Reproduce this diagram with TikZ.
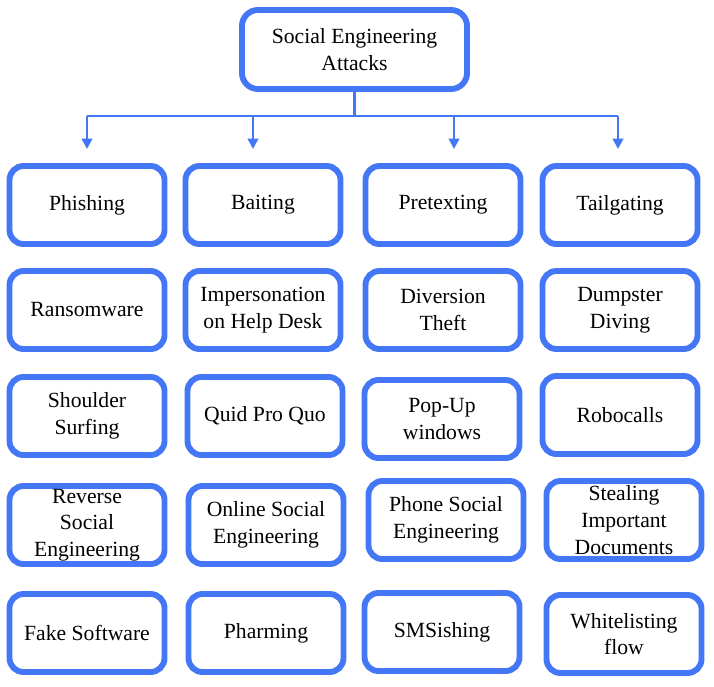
\documentclass[tikz,border=0pt]{standalone}
\usepackage{fontspec}
\setmainfont{Liberation Serif}
\usetikzlibrary{arrows.meta}
\definecolor{Blue60}{RGB}{68, 119, 246}

\begin{document}
\begin{tikzpicture}[
    x=0.025cm, y=-0.025cm,
    root/.style={draw=Blue60, line width=4.2pt, rounded corners=0.4cm, fill=white, inner sep=0pt, align=center, minimum width=5.625cm, minimum height=1.975cm},
    attack/.style={draw=Blue60, line width=4.2pt, rounded corners=0.35cm, fill=white, inner sep=0pt, align=center, minimum width=3.875cm, minimum height=1.95cm},
    link/.style={draw=Blue60, line width=1.9pt},
    font=\fontsize{15.4}{19}\selectfont
    ]
    \useasboundingbox (0,0) rectangle (714,686);

    % root
    \node [root] (root) at (354.5,49.5) {Social Engineering\\Attacks};

    % branches
    \foreach \x [count=\i] in {87, 253, 454, 618} {
        \coordinate (drop\i) at (\x,116);
        \coordinate (tip\i) at (\x,149);
    }
    \coordinate (bus) at (root.south |- drop1);
    \draw[link] (root.south) -- (bus);
    \draw[link] (drop1) -- (drop4);
    \foreach \i in {1, ..., 4}
    \draw[link, -{Triangle[length=0.26cm, width=0.26cm]}] (drop\i) -- (tip\i);

    % attack types, row by row
    \node [attack] (phishing)   at (87,205)  {Phishing};
    \node [attack] (baiting)    at (263,205) {Baiting};
    \node [attack] (pretexting) at (443,205) {Pretexting};
    \node [attack] (tailgating) at (620,205) {Tailgating};

    \node [attack] (ransomware) at (87,310)  {Ransomware};
    \node [attack] (helpdesk)   at (263,310) {Impersonation\\on Help Desk};
    \node [attack] (diversion)  at (443,310) {Diversion\\Theft};
    \node [attack] (dumpster)   at (620,310) {Dumpster\\Diving};

    \node [attack] (shoulder)   at (87,416)  {Shoulder\\Surfing};
    \node [attack] (quidpro)    at (265,416) {Quid Pro Quo};
    \node [attack] (popup)      at (442,419) {Pop-Up\\windows};
    \node [attack] (robocalls)  at (620,415) {Robocalls};

    \node [attack] (reverse)    at (87,525)  {Reverse\\Social\\Engineering};
    \node [attack] (online)     at (266,525) {Online Social\\Engineering};
    \node [attack] (phone)      at (446,520) {Phone Social\\Engineering};
    \node [attack] (stealing)   at (624,520) {Stealing\\Important\\Documents};

    \node [attack] (fakesoft)   at (87,633)  {Fake Software};
    \node [attack] (pharming)   at (266,633) {Pharming};
    \node [attack] (smsishing)  at (442,632) {SMSishing};
    \node [attack] (whitelist)  at (624,634) {Whitelisting\\flow};
\end{tikzpicture}
\end{document}
